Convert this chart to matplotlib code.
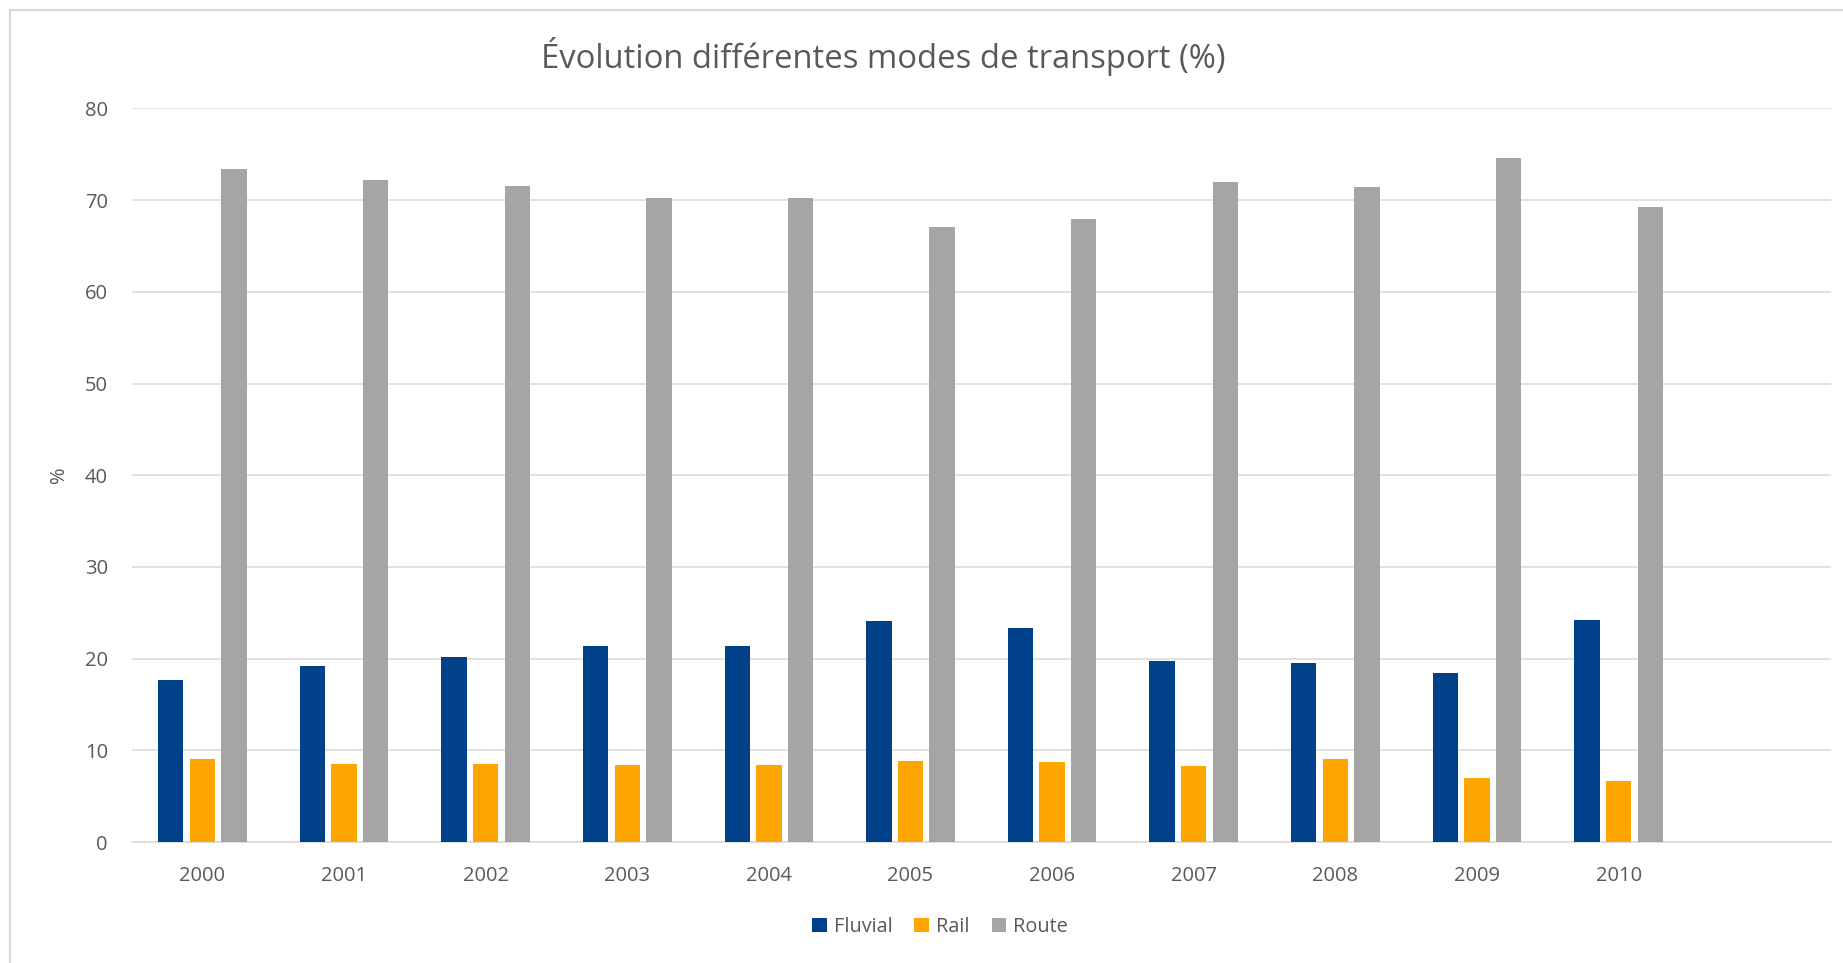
import matplotlib
matplotlib.use("agg")
import matplotlib.pyplot as plt
import matplotlib.patches as patches
import numpy as np

OUT_PNG = "out.png"

# Data (%)
years   = ["2000", "2001", "2002", "2003", "2004", "2005",
           "2006", "2007", "2008", "2009", "2010"]
fluvial = [17.7, 19.2, 20.2, 21.4, 21.4, 24.1, 23.3, 19.7, 19.5, 18.4, 24.2]
rail    = [9.0, 8.5, 8.5, 8.4, 8.4, 8.8, 8.7, 8.3, 9.1, 7.0, 6.6]
route   = [73.4, 72.2, 71.6, 70.2, 70.2, 67.1, 68.0, 72.0, 71.4, 74.6, 69.3]

series_names  = ["Fluvial", "Rail", "Route"]
series_colors = ["#004189", "#FFA500", "#A5A5A5"]

TITLE  = "Évolution différentes modes de transport (%)"
YLABEL = "%"
yticks = [0, 10, 20, 30, 40, 50, 60, 70, 80]

TEXT_COLOR = "#595959"
GRID_COLOR = "#D9D9D9"
FONT       = ["Open Sans", "DejaVu Sans"]


def main():
    plt.rcParams["font.family"] = FONT

    W, H = 1843, 963
    fig = plt.figure(figsize=(W / 100, H / 100), dpi=100)

    # axes placed in pixel terms of the reference
    left, right, top, bottom = 131.6, 1831.0, 108.5, 842.0
    ax = fig.add_axes([left / W, 1 - bottom / H,
                       (right - left) / W, (bottom - top) / H])

    # Excel-like clustered columns: gap 60 %, overlap -25 %
    bar_w = 1.0 / 1.6 / 3.5
    step  = 1.25 * bar_w
    x = np.arange(len(years))
    data = [fluvial, rail, route]
    for k, (vals, name, col) in enumerate(zip(data, series_names, series_colors)):
        ax.bar(x + (k - 1) * step, vals, width=bar_w, color=col,
               label=name, zorder=3)

    # the source has a trailing empty category slot
    ax.set_xlim(-0.5, len(years) + 0.5)
    ax.set_ylim(0, 80)
    ax.set_xticks(x)
    ax.set_xticklabels(years)
    ax.set_yticks(yticks)

    ax.yaxis.grid(True, color=GRID_COLOR, linewidth=1.1, zorder=0)
    ax.set_axisbelow(True)
    for side in ("top", "right", "left"):
        ax.spines[side].set_visible(False)
    ax.spines["bottom"].set_color(GRID_COLOR)
    ax.spines["bottom"].set_linewidth(1.1)

    ax.tick_params(axis="both", length=0, labelsize=14.5, colors=TEXT_COLOR)
    ax.tick_params(axis="x", pad=17)
    ax.tick_params(axis="y", pad=17)

    fig.text(59 / W, 1 - 475 / H, YLABEL, rotation=90, ha="center",
             va="center", fontsize=14.5, color=TEXT_COLOR)

    fig.text(883 / W, 1 - 56 / H, TITLE, ha="center", va="center",
             fontsize=23.6, color=TEXT_COLOR)

    fig.legend(loc="center", bbox_to_anchor=(940 / W, 1 - 927 / H),
               ncol=3, frameon=False, fontsize=14.3, labelcolor=TEXT_COLOR,
               handlelength=0.75, handleheight=0.75, handletextpad=0.35,
               columnspacing=1.1)

    # chart-area border (cropped at right and bottom in the reference)
    border = patches.Rectangle((10 / W, -0.05), 1.1, 1 - 10 / H + 0.05,
                               transform=fig.transFigure, fill=False,
                               edgecolor=GRID_COLOR, linewidth=1.5)
    fig.patches.append(border)

    fig.savefig(OUT_PNG, dpi=100)
    plt.close(fig)


if __name__ == "__main__":
    main()
